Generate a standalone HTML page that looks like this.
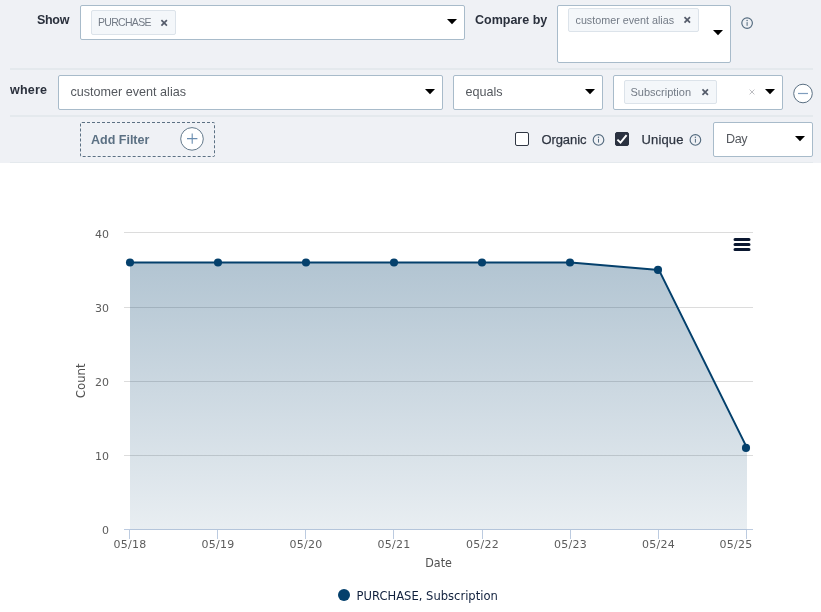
<!DOCTYPE html>
<html>
<head>
<meta charset="utf-8">
<title>Analytics</title>
<style>
html,body{margin:0;padding:0;background:#fff;}
body{width:821px;height:612px;position:relative;overflow:hidden;font-family:"Liberation Sans",sans-serif;}
.abs{position:absolute;}
#panel{position:absolute;left:0;top:0;width:821px;height:163px;background:#eff1f5;overflow:hidden;}
.hr{position:absolute;left:10px;width:803px;height:2px;background:#e4e9ed;}
.lbl{position:absolute;font-weight:bold;font-size:12.5px;color:#2a303c;line-height:16px;white-space:nowrap;}
.sel{position:absolute;box-sizing:border-box;background:#fff;border:1px solid #a8bbca;border-radius:2px;}
.arrow{position:absolute;width:0;height:0;border-left:5px solid transparent;border-right:5px solid transparent;border-top:5.5px solid #000;}
.val{position:absolute;font-size:12.6px;color:#54585e;line-height:16px;white-space:nowrap;}
.tag{position:absolute;box-sizing:border-box;background:#f4f7fa;border:1px solid #dce3ea;border-radius:2px;}
.tag span{position:absolute;font-size:11px;color:#737b86;line-height:14px;white-space:nowrap;}
.x{position:absolute;width:7px;height:7px;}
.chk{position:absolute;font-size:13px;color:#2f3642;line-height:16px;white-space:nowrap;-webkit-text-stroke:0.25px #2f3642;}
svg{position:absolute;overflow:visible;}
</style>
</head>
<body>
<div id="panel">
  <!-- row 1 -->
  <div class="lbl" style="left:37px;top:12px;letter-spacing:-0.3px;">Show</div>
  <div class="sel" style="left:80px;top:5px;width:385px;height:35px;">
    <div class="tag" style="left:10px;top:4px;width:85px;height:25px;">
      <span style="left:6px;top:4px;font-size:10.5px;letter-spacing:-0.7px;">PURCHASE</span>
    </div>
  </div>
  <div class="lbl" style="left:475px;top:12px;">Compare by</div>
  <div class="sel" style="left:557px;top:5px;width:174px;height:58px;">
    <div class="tag" style="left:10px;top:2px;width:131px;height:24px;">
      <span style="left:6.5px;top:4px;font-size:10.75px;">customer event alias</span>
    </div>
  </div>
  <div class="hr" style="top:68px;"></div>

  <!-- row 2 -->
  <div class="lbl" style="left:10px;top:82px;letter-spacing:0.2px;">where</div>
  <div class="sel" style="left:58px;top:75px;width:385px;height:35px;">
    <div class="val" style="left:11.5px;top:8px;">customer event alias</div>
  </div>
  <div class="sel" style="left:453px;top:75px;width:150px;height:35px;">
    <div class="val" style="left:11.5px;top:8px;">equals</div>
  </div>
  <div class="sel" style="left:613px;top:75px;width:170px;height:35px;">
    <div class="tag" style="left:10px;top:4px;width:93px;height:24px;">
      <span style="left:5.5px;top:3.5px;">Subscription</span>
    </div>
  </div>
  <div class="hr" style="top:115px;"></div>

  <!-- row 3 -->
  <div class="abs" style="left:80px;top:122px;width:135px;height:35px;box-sizing:border-box;border:1px dashed #5b7083;border-radius:2px;"></div>
  <div class="lbl" style="left:91px;top:132px;color:#5b7083;">Add Filter</div>

  <div class="abs" style="left:515px;top:132px;width:14px;height:14px;box-sizing:border-box;background:#fff;border:1px solid #2f3642;border-radius:2px;"></div>
  <div class="chk" style="left:541.5px;top:132px;letter-spacing:-0.1px;">Organic</div>
  <div class="abs" style="left:615px;top:132px;width:14px;height:14px;box-sizing:border-box;background:#2b3240;border:1px solid #2b3240;border-radius:2px;"></div>
  <div class="chk" style="left:641.5px;top:132px;letter-spacing:0.15px;">Unique</div>
  <div class="sel" style="left:713px;top:122px;width:100px;height:35px;">
    <div class="val" style="left:12px;top:8px;letter-spacing:-0.4px;">Day</div>
  </div>
  <div class="hr" style="top:162px;"></div>
  <svg id="icons" style="left:0;top:0;" width="821" height="163" viewBox="0 0 821 163">
    <path d="M161.40 20.20L166.90 25.70M166.90 20.20L161.40 25.70" stroke="#555c6b" stroke-width="1.7" fill="none"/>
    <path d="M684.50 17.20L690.00 22.70M690.00 17.20L684.50 22.70" stroke="#555c6b" stroke-width="1.7" fill="none"/>
    <path d="M702.45 89.35L707.95 94.85M707.95 89.35L702.45 94.85" stroke="#555c6b" stroke-width="1.7" fill="none"/>
    <path d="M749.60 89.60L754.40 94.40M754.40 89.60L749.60 94.40" stroke="#b4b6ba" stroke-width="0.9" fill="none"/>
    <circle cx="747.1" cy="23.1" r="5.3" fill="none" stroke="#546b7f" stroke-width="1.15"/><rect x="746.60" y="22.10" width="1" height="3.7" fill="#546b7f"/><circle cx="747.1" cy="20.50" r="0.7" fill="#546b7f"/>
    <circle cx="598.5" cy="139.9" r="5.3" fill="none" stroke="#546b7f" stroke-width="1.15"/><rect x="598.00" y="138.90" width="1" height="3.7" fill="#546b7f"/><circle cx="598.5" cy="137.30" r="0.7" fill="#546b7f"/>
    <circle cx="695.4" cy="139.9" r="5.3" fill="none" stroke="#546b7f" stroke-width="1.15"/><rect x="694.90" y="138.90" width="1" height="3.7" fill="#546b7f"/><circle cx="695.4" cy="137.30" r="0.7" fill="#546b7f"/>
    <path d="M447 19H457L452 24.2Z" fill="#000"/>
    <path d="M713 30H723L718 35.2Z" fill="#000"/>
    <path d="M425 89H435L430 94.2Z" fill="#000"/>
    <path d="M585 89H595L590 94.2Z" fill="#000"/>
    <path d="M765 89H775L770 94.2Z" fill="#000"/>
    <path d="M795 136H805L800 141.2Z" fill="#000"/>
    <circle cx="803" cy="93.5" r="9.3" fill="#fff" stroke="#5b7083" stroke-width="1"/><path d="M798 93.5H808" stroke="#7f9dbd" stroke-width="1.2"/>
    <circle cx="192" cy="138.9" r="11.3" fill="#fff" stroke="#647a8c" stroke-width="1"/><path d="M187 138.6H197.4M192.2 133.4V143.8" stroke="#6a8db0" stroke-width="1.1"/>
    <path d="M617.4 139.6L620.5 142.6L626.6 135.2" stroke="#fff" stroke-width="2" fill="none"/>
  </svg>
</div>

<!-- chart -->
<svg id="chart" style="left:0;top:163px;" width="821" height="449" viewBox="0 163 821 449" font-family="'DejaVu Sans', sans-serif">
  <defs>
    <linearGradient id="ag" x1="0" y1="262" x2="0" y2="529.5" gradientUnits="userSpaceOnUse">
      <stop offset="0" stop-color="#04406c" stop-opacity="0.307"/>
      <stop offset="1" stop-color="#04406c" stop-opacity="0.09"/>
    </linearGradient>
  </defs>
  <path d="M124 232.5H753M124 307.5H753M124 381.5H753M124 455.5H753" stroke="#dcdcdc" stroke-width="1" shape-rendering="crispEdges"/>
  <path d="M124 529.5H753" stroke="#bccbe0" stroke-width="1" shape-rendering="crispEdges"/>
  <path d="M129.5 530V539M217.5 530V539M305.5 530V539M393.5 530V539M482.5 530V539M570.5 530V539M658.5 530V539M746.5 530V539" stroke="#bccbe0" stroke-width="1" shape-rendering="crispEdges"/>
  <path d="M130 262.45 L218.1 262.45 L306.3 262.45 L394.4 262.45 L482.6 262.45 L570.7 262.45 L658.9 269.9 L747 447.9 L747 529.5 L130 529.5 Z" fill="url(#ag)"/>
  <path d="M130 262.45 L218.1 262.45 L306.3 262.45 L394.4 262.45 L482.6 262.45 L570.7 262.45 L658.9 269.9 L747 447.9" fill="none" stroke="#04406c" stroke-width="2" stroke-linejoin="round" stroke-linecap="round"/>
  <g fill="#04406c"><circle cx="130" cy="262.45" r="4.05"/><circle cx="218" cy="262.45" r="4.05"/><circle cx="306" cy="262.45" r="4.05"/><circle cx="394" cy="262.45" r="4.05"/><circle cx="482" cy="262.45" r="4.05"/><circle cx="570" cy="262.45" r="4.05"/><circle cx="658" cy="269.9" r="4.05"/><circle cx="746" cy="447.9" r="4.05"/></g>
  <g font-size="11" fill="#5c5c5c" text-anchor="end">
    <text x="109" y="238">40</text>
    <text x="109" y="312">30</text>
    <text x="109" y="386">20</text>
    <text x="109" y="460">10</text>
    <text x="109" y="534">0</text>
  </g>
  <g font-size="11" fill="#5c5c5c" text-anchor="middle" letter-spacing="0.3">
    <text x="130" y="548">05/18</text>
    <text x="218" y="548">05/19</text>
    <text x="306" y="548">05/20</text>
    <text x="394" y="548">05/21</text>
    <text x="482.5" y="548">05/22</text>
    <text x="570.5" y="548">05/23</text>
    <text x="658.5" y="548">05/24</text>
    <text x="736" y="548">05/25</text>
  </g>
  <text x="425.3" y="567" font-size="12" fill="#505050" textLength="26.6" lengthAdjust="spacingAndGlyphs">Date</text>
  <text transform="translate(85.3,398.2) rotate(-90)" font-size="12" fill="#505050" textLength="34.8" lengthAdjust="spacingAndGlyphs">Count</text>
  <path d="M735 239.5H749M735 244.5H749M735 249.5H749" stroke="#0a1730" stroke-width="3" stroke-linecap="round"/>
  <circle cx="344" cy="595" r="6" fill="#04406c"/>
  <text x="356.6" y="600" font-size="12" fill="#10203d" textLength="141.2" lengthAdjust="spacingAndGlyphs">PURCHASE, Subscription</text>
</svg>
</body>
</html>
